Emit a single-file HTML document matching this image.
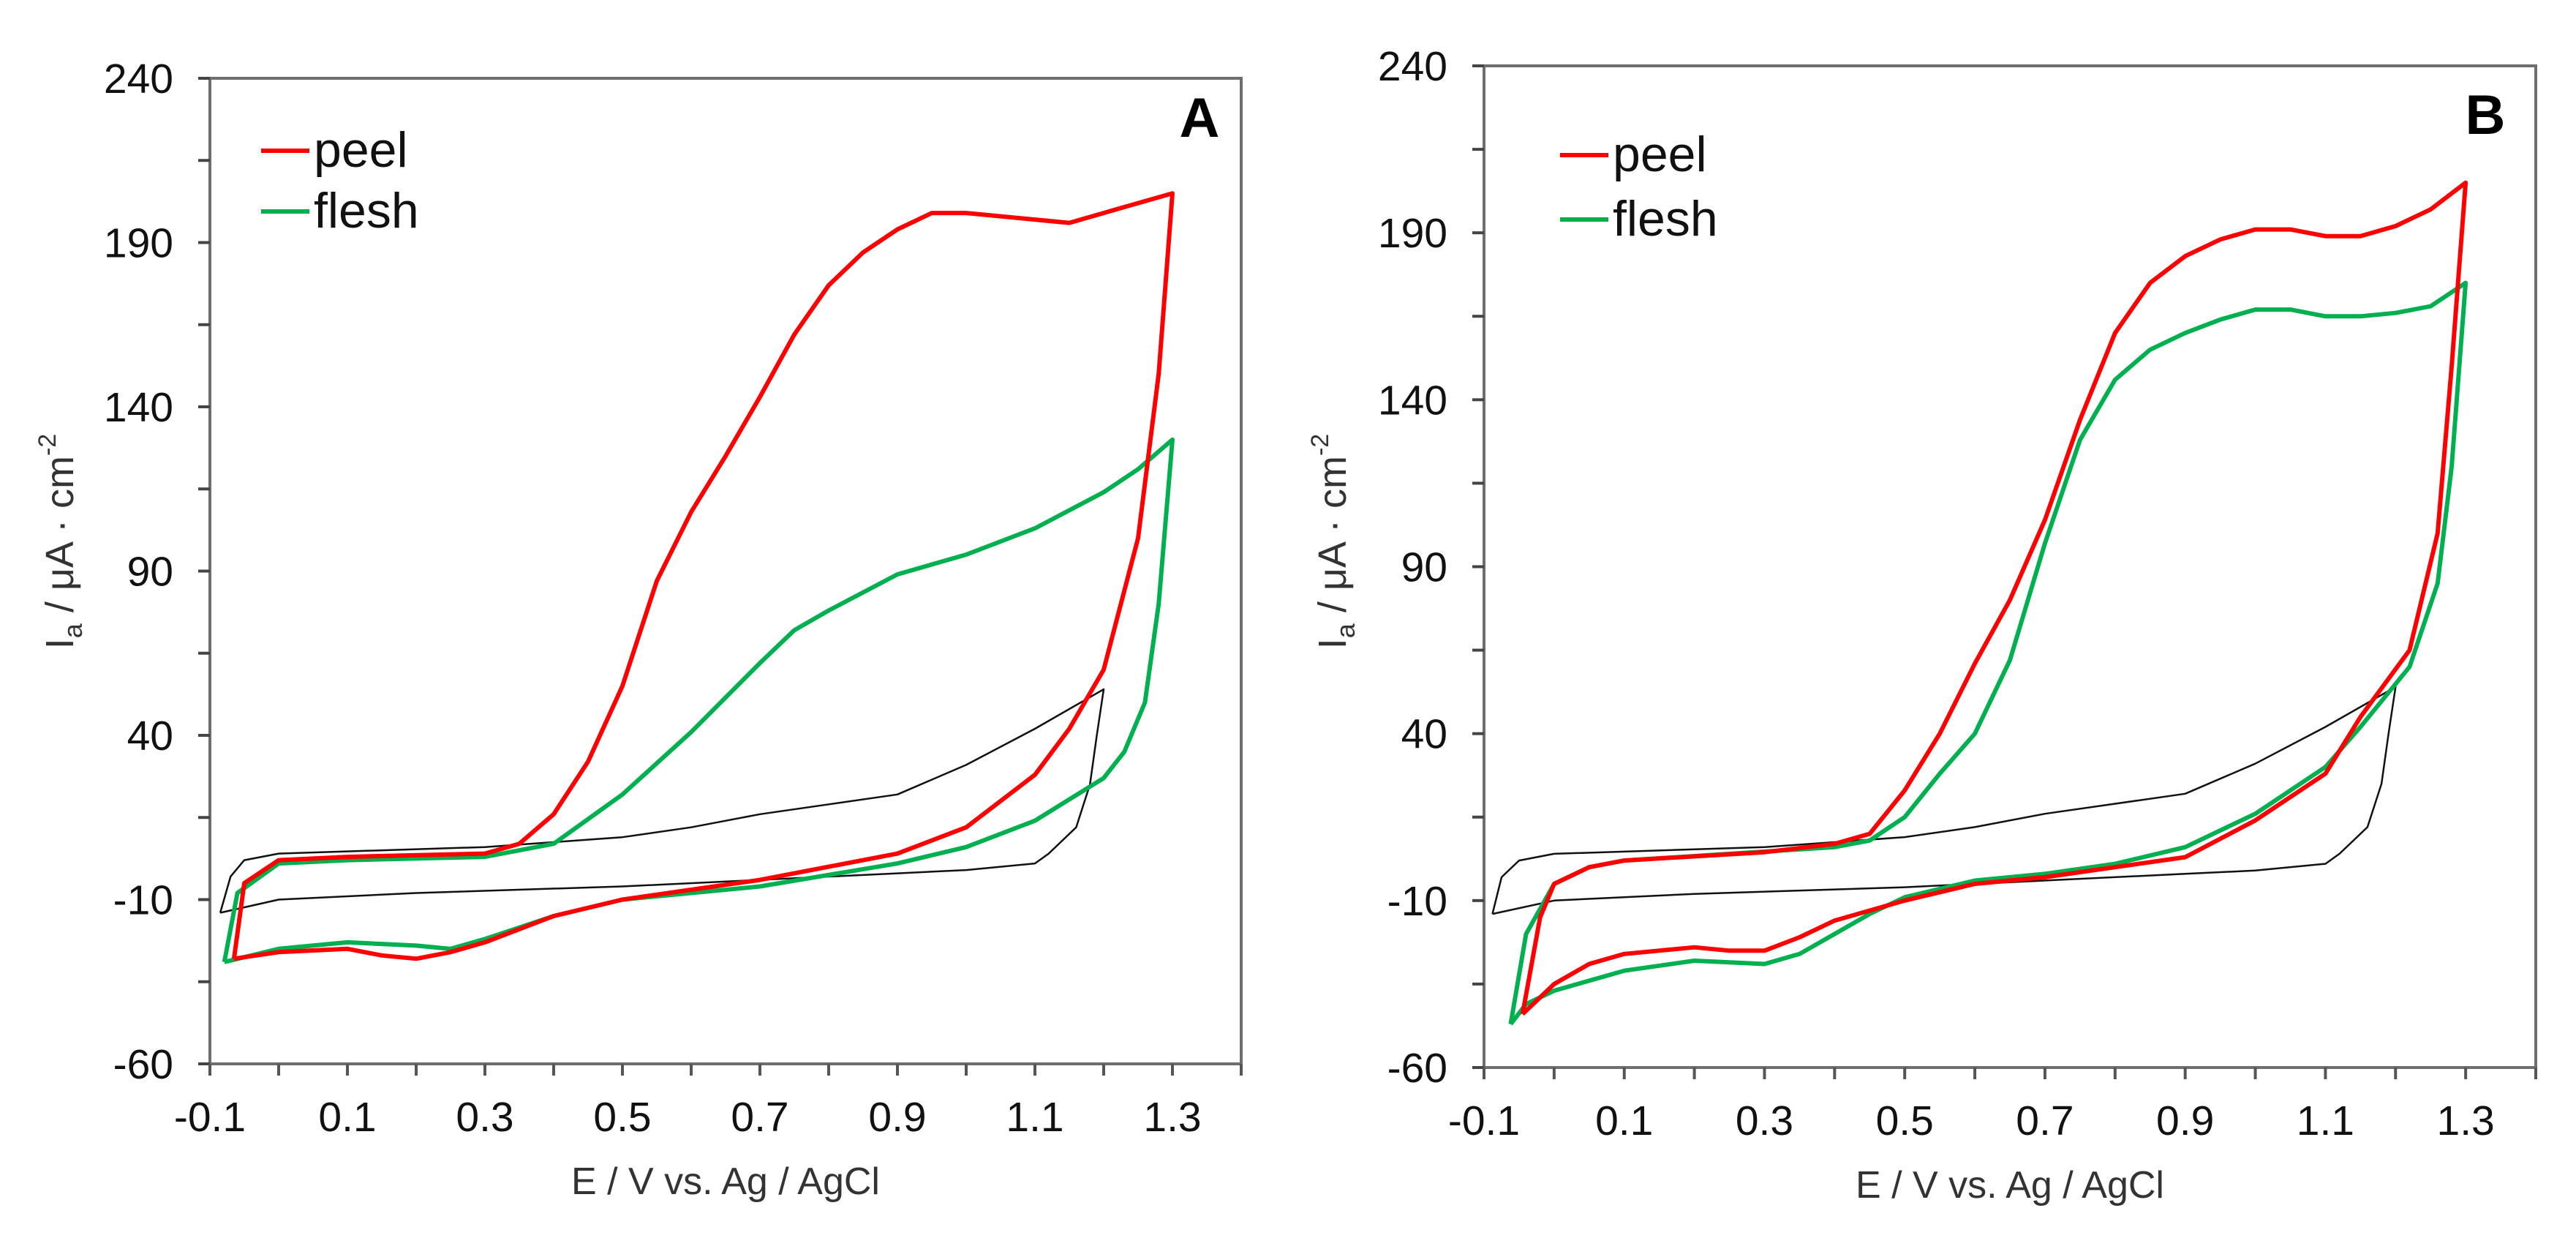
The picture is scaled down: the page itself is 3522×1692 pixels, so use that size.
<!DOCTYPE html>
<html><head><meta charset="utf-8"><style>
html,body{margin:0;padding:0;background:#fff;}
svg{display:block;font-family:"Liberation Sans",sans-serif;}
</style></head><body>
<svg id="chart" width="3522" height="1692" viewBox="0 0 3522 1692" xmlns="http://www.w3.org/2000/svg"></svg>
<script>
// ---- data ----
const yTicks = [240, 190, 140, 90, 40, -10, -60];
const xTicks = [-0.1, 0.1, 0.3, 0.5, 0.7, 0.9, 1.1, 1.3];
const xTickLabels = ["-0.1","0.1","0.3","0.5","0.7","0.9","1.1","1.3"];

// Panel A
const aPeelE = [-0.065,-0.05,0.0,0.1,0.3,0.35,0.4,0.45,0.5,0.55,0.6,0.65,0.7,0.75,0.8,0.85,0.9,0.95,1.0,1.1,1.15,1.2,1.3,
  1.28,1.25,1.2,1.15,1.1,1.0,0.9,0.8,0.7,0.6,0.5,0.4,0.35,0.3,0.25,0.2,0.15,0.1,0.0,-0.065];
const aPeelI = [-28,-5,2,3,4,7,16,32,55,87,108,125,143,162,177,187,194,199,199,197,196,199,205,
  150,100,60,42,28,12,4,0,-4,-7,-10,-15,-19,-23,-26,-28,-27,-25,-26,-28];
const aFleshE = [-0.079,-0.06,0.0,0.1,0.3,0.4,0.5,0.6,0.7,0.75,0.8,0.9,1.0,1.1,1.2,1.25,1.3,
  1.28,1.26,1.23,1.2,1.1,1.0,0.9,0.7,0.5,0.4,0.3,0.25,0.2,0.1,0.0,-0.079];
const aFleshI = [-29,-8,1,2,3,7,22,41,62,72,78,89,95,103,114,121,130,
  80,50,35,27,14,6,1,-6,-10,-15,-22,-25,-24,-23,-25,-29];
const aBlankE = [-0.085,-0.07,-0.05,0.0,0.3,0.5,0.6,0.7,0.8,0.9,1.0,1.1,1.2,
  1.19,1.18,1.16,1.12,1.1,1.0,0.9,0.5,0.2,0.0,-0.085];
const aBlankI = [-14,-3,2,4,6,9,12,16,19,22,31,42,54,
  40,25,12,4,1,-1,-2,-6,-8,-10,-14];

// Panel B
const bPeelE = [-0.045,-0.02,0.0,0.05,0.1,0.3,0.4,0.45,0.5,0.55,0.6,0.65,0.7,0.75,0.8,0.85,0.9,0.95,1.0,1.05,1.1,1.15,1.2,1.25,1.3,
  1.28,1.26,1.22,1.15,1.1,1.0,0.9,0.8,0.7,0.6,0.5,0.45,0.4,0.35,0.3,0.25,0.2,0.1,0.05,0.0,-0.045];
const bPeelI = [-44,-15,-5,0,2,4.5,7,10,23,40,61,80,104,134,160,175,183,188,191,191,189,189,192,197,205,
  150,100,65,45,28,14,3,0,-3,-5,-10,-13,-16,-21,-25,-25,-24,-26,-29,-35,-44];
const bFleshE = [-0.062,-0.04,0.0,0.05,0.1,0.4,0.45,0.5,0.55,0.6,0.65,0.7,0.75,0.8,0.85,0.9,0.95,1.0,1.05,1.1,1.15,1.2,1.25,1.3,
  1.28,1.26,1.22,1.15,1.1,1.0,0.9,0.8,0.7,0.6,0.5,0.45,0.4,0.35,0.3,0.2,0.1,0.0,-0.04,-0.062];
const bFleshI = [-47,-20,-5,0,2,6,8,15,28,40,62,97,128,146,155,160,164,167,167,165,165,166,168,175,
  120,85,60,42,30,16,6,1,-2,-4,-9,-14,-20,-26,-29,-28,-31,-37,-41,-47];
const bBlankE = [-0.088,-0.075,-0.05,0.0,0.3,0.5,0.6,0.7,0.8,0.9,1.0,1.1,1.2,
  1.19,1.18,1.16,1.12,1.1,1.0,0.9,0.5,0.2,0.0,-0.088];
const bBlankI = [-14,-3,2,4,6,9,12,16,19,22,31,42,54,
  40,25,12,4,1,-1,-2,-6,-8,-10,-14];

const NS = "http://www.w3.org/2000/svg";
const svg = document.getElementById("chart");
function mk(tag, attrs, parent){ const e=document.createElementNS(NS,tag); for(const k in attrs) e.setAttribute(k,attrs[k]); (parent||svg).appendChild(e); return e; }

function panel(p){
  const g = mk("g",{});
  
  
  const xs = v => p.left + (v - (-0.1)) * (p.right - p.left) / 1.5;
  const ys = v => p.bottom - (v - (-60)) * (p.bottom - p.top) / 300;
  const fr = mk("rect",{x:p.left,y:p.top,width:p.right-p.left,height:p.bottom-p.top,fill:"none",stroke:"#6e6e6e","stroke-width":4},g);
  
  
  for(let v=-60; v<=240; v+=25){
    const t = mk("line",{x1:p.left-16,x2:p.left,y1:ys(v),y2:ys(v),stroke:"#444","stroke-width":4},g);
    
    
  }
  yTicks.forEach(v=>{
    const t = mk("text",{x:p.left-50,y:ys(v)+20,"text-anchor":"end","font-size":57,fill:"#111"},g);
    t.textContent = String(v);
    
    
  });
  for(let i=0;i<=15;i++){
    const v = -0.1 + i*0.1;
    const t = mk("line",{x1:xs(v),x2:xs(v),y1:p.bottom,y2:p.bottom+16,stroke:"#555","stroke-width":4},g);
    
    
  }
  xTicks.forEach((v,i)=>{
    const t = mk("text",{x:xs(v),y:p.bottom+92,"text-anchor":"middle","font-size":57,fill:"#111"},g);
    t.textContent = xTickLabels[i];
    
    
  });
  const xt = mk("text",{x:(p.left+p.right)/2,y:p.bottom+178,"text-anchor":"middle","font-size":52,fill:"#333"},g);
  xt.setAttribute("xml:space","preserve");
  xt.textContent = "E / V  vs. Ag  / AgCl";
  
  
  const yt = mk("text",{x:0,y:0,"text-anchor":"middle","font-size":54,fill:"#333",transform:`translate(${p.ytx},${p.yty}) rotate(-90)`},g);
  yt.innerHTML = 'I<tspan font-size="36" dy="12">a</tspan><tspan dy="-12"> / μA · cm</tspan><tspan font-size="34" dy="-24">-2</tspan>';
  
  
  const series = [[p.blankE,p.blankI,"#111",2.5,"blank-curve"],[p.fleshE,p.fleshI,"#00b050",6,"flesh-curve"],[p.peelE,p.peelI,"#ff0000",6,"peel-curve"]];
  series.forEach(s=>{
    const pts = s[0].map((e,i)=>xs(e).toFixed(1)+","+ys(s[1][i]).toFixed(1)).join(" ");
    const pl = mk("polyline",{points:pts,fill:"none",stroke:s[2],"stroke-width":s[3],"stroke-linejoin":"round"},g);
    
    
  });
  const leg = [["peel","#ff0000",p.legY1],["flesh","#00b050",p.legY2]];
  leg.forEach(l=>{
    const ln = mk("line",{x1:p.legX,x2:p.legX+66,y1:l[2],y2:l[2],stroke:l[1],"stroke-width":6},g);
    
    
    const tx = mk("text",{x:p.legX+72,y:l[2]+22,"font-size":68,fill:"#111"},g);
    tx.textContent = l[0];
    
    
  });
  const pl = mk("text",{x:p.lblX,y:p.lblY,"text-anchor":"middle","font-size":76,"font-weight":"bold",fill:"#000"},g);
  pl.textContent = p.label;
  
  
}

panel({name:"panel-a",left:287,right:1697,top:107,bottom:1454,ytx:100,yty:740,
  peelE:aPeelE,peelI:aPeelI,fleshE:aFleshE,fleshI:aFleshI,blankE:aBlankE,blankI:aBlankI,
  legX:357,legY1:206,legY2:289,label:"A",lblX:1640,lblY:187});
panel({name:"panel-b",left:2029,right:3467,top:90,bottom:1459,ytx:1840,yty:740,
  peelE:bPeelE,peelI:bPeelI,fleshE:bFleshE,fleshI:bFleshI,blankE:bBlankE,blankI:bBlankI,
  legX:2133,legY1:212,legY2:300,label:"B",lblX:3398,lblY:183});
</script>
</body></html>
